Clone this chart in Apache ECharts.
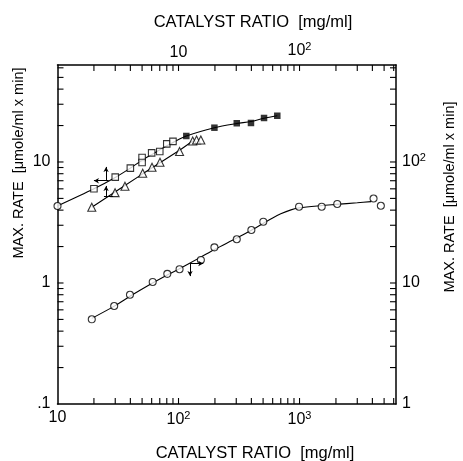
<!DOCTYPE html>
<html><head><meta charset="utf-8">
<script src="https://cdn.jsdelivr.net/npm/echarts@6/dist/echarts.min.js"></script>
<style>html,body{margin:0;padding:0;background:#fff}#c{width:463px;height:461px}</style>
</head><body><div id="c"></div>
<script>
// ---- axis ranges (log scales) ----
const bottomRange = [10, 6270];   // CATALYST RATIO (bottom)
const topRange = [1, 627];        // CATALYST RATIO (top)
const leftRange = [0.1, 63.3];    // MAX. RATE (left)
const rightRange = [1, 633];      // MAX. RATE (right)

// ---- tick labels ----
const bottomLabelValues = [10, 100, 1000];
const bottomLabelTexts = ['10', '10{s|2}', '10{s|3}'];
const topLabelValues = [10, 100];
const topLabelTexts = ['10', '10{s|2}'];
const leftLabelValues = [0.1, 1, 10];
const leftLabelTexts = ['.1', '1', '10'];
const rightLabelValues = [1, 10, 100];
const rightLabelTexts = ['1', '10', '10{s|2}'];

// ---- tick positions ----
const bottomTicks = [20,30,40,50,60,70,80,90,100,200,300,400,500,600,700,800,900,1000,2000,3000,4000,5000,6000];
const topTicks = [2,3,4,5,6,7,8,9,10,20,30,40,50,60,70,80,90,100,200,300,400,500,600];
const leftTicks = [0.2,0.3,0.4,0.5,0.6,0.7,0.8,0.9,1,2,3,4,5,6,7,8,9,10,20,30,40,50,60];
const rightTicks = [2,3,4,5,6,7,8,9,10,20,30,40,50,60,70,80,90,100,200,300,400,500,600];

// ---- data: open squares / filled squares / triangles (top x, left y) ----
const startPoint = [[1, 4.33]];
const openSquares = [[2,6.0],[3,7.5],[4,8.9],[5,10.9],[5,9.9],[6,11.9],[7,12.2],[8,14.1],[9,14.8]];
const filledSquares = [[11.6,16.4],[19.8,19.2],[30.3,20.9],[39.7,21.0],[50.9,23.1],[65.5,24.1]];
const squareCurve = [[1,4.33],[2,6.0],[3,7.45],[4,8.9],[5,10.35],[6,11.5],[7,12.6],[8,13.6],[9,14.5],[11.6,16.4],[19.8,19.2],[30.3,20.8],[39.7,21.6],[50.9,23.0],[65.5,24.1]];
const triangles = [[1.92,4.22],[2.99,5.58],[3.61,6.30],[5.06,8.07],[6.04,9.04],[7.03,9.94],[10.2,12.2],[13.1,14.9],[14.1,15.2],[15.3,15.2]];
const triangleCurve = [[1.92,4.22],[5.06,7.98],[10.2,12.5],[13.1,14.9]];

// ---- data: open circles (bottom x, right y) ----
const circles = [[19.2,5.01],[29.4,6.45],[39.7,8.0],[61.2,10.2],[80.8,11.9],[102,13.0],[153,15.5],[198,19.7],[303,23.0],[400,27.4],[502,32.1],[991,42.7],[1525,42.7],[2050,45.0],[4090,49.9],[4700,43.5]];
const circleCurve = [[19.2,5.1],[30,6.5],[40,7.8],[60,9.9],[80,11.6],[100,13.0],[150,16.2],[200,19.0],[300,23.4],[400,27.3],[500,31.0],[600,34.5],[700,37.3],[850,40.2],[1000,41.8],[1500,43.6],[2000,44.6],[3000,46.0],[3900,47.0]];

// ---- arrow annotations [from, to] in data units ----
const squareArrows = [[[2.52,7.0],[2.52,9.1]],[[2.65,7.0],[2.0,7.0]]];
const triangleArrow = [[2.52,5.19],[2.52,6.34]];
const triangleBase = [[2.42,5.19],[2.88,5.19]];
const circleArrows = [[[124.5,14.5],[124.5,11.4]],[[124.5,14.5],[160,14.5]]];

const FONT = '"Liberation Sans", Arial, sans-serif';

function fmt(values, texts) {
  return function (v) {
    for (let i = 0; i < values.length; i++) {
      if (Math.abs(Math.log10(v) - Math.log10(values[i])) < 1e-6) return texts[i];
    }
    return '';
  };
}
const labelBase = {
  fontFamily: FONT, fontSize: 16, color: '#000',
  rich: { s: { fontFamily: FONT, fontSize: 11, color: '#000', verticalAlign: 'top', padding: [0, 0, 9, 0] } }
};
function axisCommon(range, values, texts, margin) {
  return {
    type: 'log', logBase: 10, min: range[0], max: range[1],
    axisLine: { show: true, lineStyle: { color: '#000', width: 1.5 } },
    axisTick: { show: false }, splitLine: { show: false }, minorTick: { show: false },
    axisLabel: Object.assign({ formatter: fmt(values, texts), margin: margin, showMinLabel: true, showMaxLabel: true }, labelBase)
  };
}

function tickSeries(values, xIdx, yIdx, side) {
  const data = values.map(function (v) {
    if (side === 'bottom') return [v, leftRange[0]];
    if (side === 'top') return [v, leftRange[0]];
    if (side === 'left') return [topRange[0], v];
    return [bottomRange[0], v];
  });
  return {
    type: 'custom', xAxisIndex: xIdx, yAxisIndex: yIdx, silent: true, clip: false, z: 10,
    data: data,
    renderItem: function (params, api) {
      const cs = params.coordSys;
      const p = api.coord([api.value(0), api.value(1)]);
      const L = 6;
      let shape;
      if (side === 'bottom') shape = { x1: p[0], y1: cs.y + cs.height, x2: p[0], y2: cs.y + cs.height - L };
      else if (side === 'top') shape = { x1: p[0], y1: cs.y, x2: p[0], y2: cs.y + L };
      else if (side === 'left') shape = { x1: cs.x, y1: p[1], x2: cs.x + L, y2: p[1] };
      else shape = { x1: cs.x + cs.width, y1: p[1], x2: cs.x + cs.width - L, y2: p[1] };
      return { type: 'line', shape: shape, style: { stroke: '#000', lineWidth: 1.1 } };
    }
  };
}

function arrowLines(pairs) {
  return pairs.map(function (pr) { return [{ coord: pr[0] }, { coord: pr[1] }]; });
}
function markLineCfg(arrowPairs, plainPairs) {
  const d = arrowLines(arrowPairs);
  (plainPairs || []).forEach(function (pr) {
    d.push([{ coord: pr[0], symbol: 'none' }, { coord: pr[1], symbol: 'none' }]);
  });
  return {
    silent: true, symbol: ['none', 'arrow'], symbolSize: [4, 5], precision: 6,
    label: { show: false }, emphasis: { disabled: true },
    lineStyle: { color: '#000', width: 1, type: 'solid' },
    data: d, animation: false
  };
}

const lineStyle = { color: '#000', width: 1.1 };
const openMarker = { color: '#fff', borderColor: '#000', borderWidth: 1.1 };

const chart = echarts.init(document.getElementById('c'), null, { renderer: 'canvas' });
chart.setOption({
  animation: false,
  backgroundColor: '#fff',
  grid: { left: 57.5, right: 67, top: 65, bottom: 57, containLabel: false },
  xAxis: [
    Object.assign(axisCommon(bottomRange, bottomLabelValues, bottomLabelTexts, 6), { position: 'bottom' }),
    Object.assign(axisCommon(topRange, topLabelValues, topLabelTexts, 4), { position: 'top' })
  ],
  yAxis: [
    Object.assign(axisCommon(leftRange, leftLabelValues, leftLabelTexts, 7), { position: 'left' }),
    Object.assign(axisCommon(rightRange, rightLabelValues, rightLabelTexts, 6), { position: 'right' })
  ],
  graphic: [
    { type: 'text', x: 253, y: 22, style: { text: 'CATALYST RATIO  [mg/ml]', font: '16.5px ' + FONT, fill: '#000', textAlign: 'center', textVerticalAlign: 'middle' } },
    { type: 'text', x: 255, y: 453, style: { text: 'CATALYST RATIO  [mg/ml]', font: '16.5px ' + FONT, fill: '#000', textAlign: 'center', textVerticalAlign: 'middle' } },
    { type: 'text', x: 19, y: 163, rotation: Math.PI / 2, style: { text: 'MAX. RATE  [\u03bcmole/ml x min]', font: '14.5px ' + FONT, fill: '#000', textAlign: 'center', textVerticalAlign: 'middle' } },
    { type: 'text', x: 450, y: 197, rotation: Math.PI / 2, style: { text: 'MAX. RATE  [\u03bcmole/ml x min]', font: '14.5px ' + FONT, fill: '#000', textAlign: 'center', textVerticalAlign: 'middle' } }
  ],
  series: [
    tickSeries(bottomTicks, 0, 0, 'bottom'),
    tickSeries(topTicks, 1, 0, 'top'),
    tickSeries(leftTicks, 1, 0, 'left'),
    tickSeries(rightTicks, 0, 1, 'right'),
    { type: 'line', xAxisIndex: 0, yAxisIndex: 1, data: circleCurve, smooth: 0.3, showSymbol: false, symbol: 'none', lineStyle: lineStyle, z: 2, silent: true,
      markLine: markLineCfg(circleArrows) },
    { type: 'scatter', xAxisIndex: 0, yAxisIndex: 1, data: circles, symbol: 'circle', symbolSize: 7, itemStyle: openMarker, z: 3, clip: false, silent: true },
    { type: 'line', xAxisIndex: 1, yAxisIndex: 0, data: squareCurve, smooth: 0.3, showSymbol: false, symbol: 'none', lineStyle: lineStyle, z: 2, silent: true,
      markLine: markLineCfg(squareArrows) },
    { type: 'line', xAxisIndex: 1, yAxisIndex: 0, data: triangleCurve, smooth: 0.2, showSymbol: false, symbol: 'none', lineStyle: lineStyle, z: 2, silent: true,
      markLine: markLineCfg([triangleArrow], [triangleBase]) },
    { type: 'scatter', xAxisIndex: 1, yAxisIndex: 0, data: startPoint, symbol: 'circle', symbolSize: 7, itemStyle: openMarker, z: 3, clip: false, silent: true },
    { type: 'scatter', xAxisIndex: 1, yAxisIndex: 0, data: openSquares, symbol: 'rect', symbolSize: 6.5, itemStyle: openMarker, z: 3, clip: false, silent: true },
    { type: 'scatter', xAxisIndex: 1, yAxisIndex: 0, data: filledSquares, symbol: 'rect', symbolSize: 6.5, itemStyle: { color: '#000' }, z: 3, clip: false, silent: true },
    { type: 'scatter', xAxisIndex: 1, yAxisIndex: 0, data: triangles, symbol: 'triangle', symbolSize: 8, itemStyle: openMarker, z: 3, clip: false, silent: true }
  ]
});
</script>
</body></html>
